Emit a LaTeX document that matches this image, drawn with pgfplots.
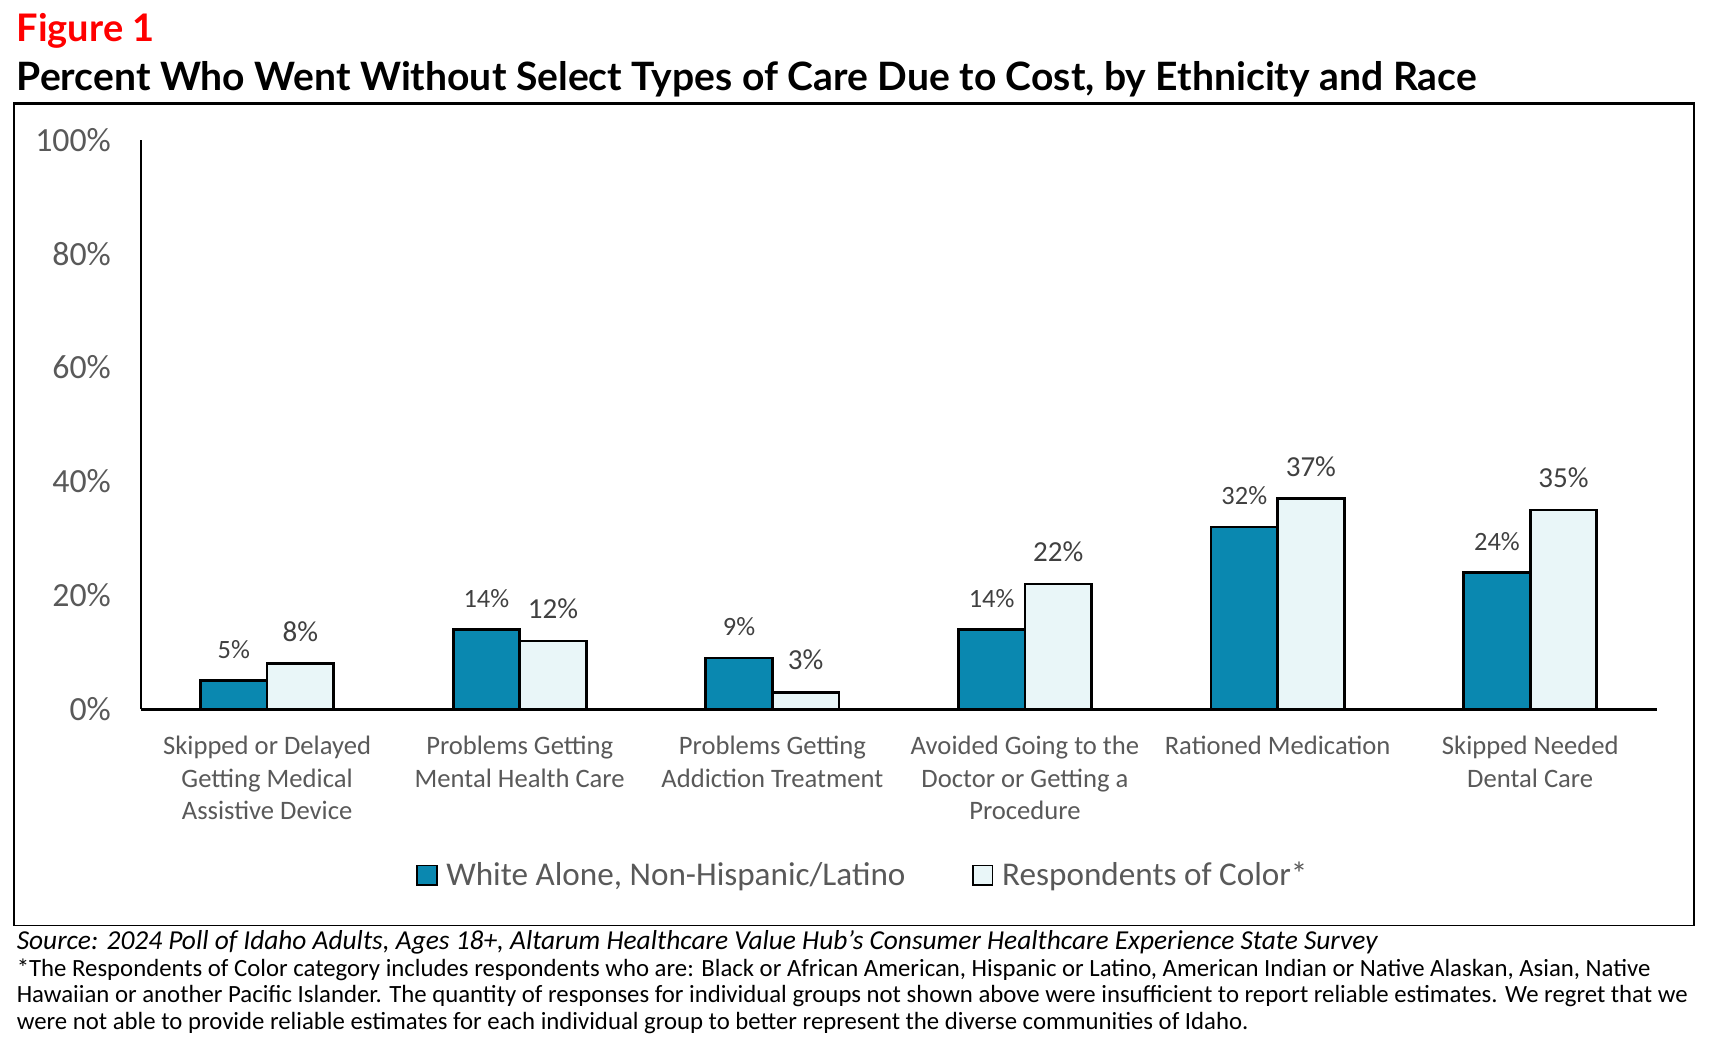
\documentclass[border=0pt]{standalone}
\usepackage{pgfplots}
\pgfplotsset{compat=1.18}
\usepackage{fontspec}
\setmainfont{Carlito}
\newfontfamily\titlefont{Lato}
\definecolor{cteal}{RGB}{10,136,176}
\definecolor{clight}{RGB}{233,246,248}
\definecolor{tickgray}{RGB}{89,89,89}
\definecolor{labgray}{RGB}{64,64,64}
\begin{document}
\begin{tikzpicture}[x=0.5pt,y=0.5pt]
\path (0,0) rectangle (1567,-955);
\node[anchor=base west, inner sep=0pt, text=red, font=\titlefont\bfseries\fontsize{17.4}{20}\selectfont] at (15,-38) {Figure 1};
\node[anchor=base west, inner sep=0pt, text=black, font=\titlefont\bfseries\fontsize{17.9}{20}\selectfont] at (15,-83) {Percent Who Went Without Select Types of Care Due to Cost, by Ethnicity and Race};
\draw[line width=0.8pt] (13,-95) rectangle (1552,-848);
\draw[line width=1.6pt] (12.2,-95) -- (1552.8,-95);
\coordinate (axorig) at (129,-650);
\begin{axis}[
  at={(axorig)}, anchor=south west,
  scale only axis, width=694.5pt, height=261pt,
  xmin=-0.5, xmax=5.5, ymin=0, ymax=100,
  axis x line*=bottom, axis y line*=left,
  x axis line style={-, line width=1.5pt},
  y axis line style={-, line width=1pt},
  major tick length=0pt, tick style={draw=none},
  xtick={0,1,2,3,4,5},
  xticklabels={{Skipped or Delayed\\Getting Medical\\Assistive Device},
               {Problems Getting\\Mental Health Care},
               {Problems Getting\\Addiction Treatment},
               {Avoided Going to the\\Doctor or Getting a\\Procedure},
               {Rationed Medication},
               {Skipped Needed\\Dental Care}},
  xticklabel style={align=center, anchor=north, inner sep=0pt, yshift=-12pt,
     text=tickgray, font=\fontsize{12.2}{15}\selectfont},
  ytick={0,20,40,60,80,100},
  yticklabels={0\%,20\%,40\%,60\%,80\%,100\%},
  yticklabel style={anchor=east, inner sep=0pt, xshift=-13.5pt,
     text=tickgray, font=\fontsize{15.5}{18}\selectfont},
  ybar=0pt, bar width=30.5pt,
  point meta=explicit symbolic,
  nodes near coords,
  nodes near coords style={anchor=south, inner sep=0pt, yshift=9.5pt, text=labgray},
  legend columns=2,
  legend image code/.code={\draw[#1, line width=0.8pt] (0pt,-4.5pt) rectangle (9pt,4.5pt);},
  legend style={at={(axis description cs:0.1814,-0.2912)}, anchor=west,
     draw=none, fill=none, inner sep=0pt, column sep=4pt,
     /tikz/every even column/.append style={column sep=30.5pt},
     nodes={inner sep=0pt, text=tickgray}, font=\fontsize{15.2}{18}\selectfont},
  clip=false,
]
\addplot[fill=cteal, draw=black, line width=1.25pt,
  nodes near coords style={font=\fontsize{12.1}{14}\selectfont}]
  coordinates {(0,5)[5\%] (1,14)[14\%] (2,9)[9\%] (3,14)[14\%] (4,32)[32\%] (5,24)[24\%]};
\addplot[fill=clight, draw=black, line width=1.25pt,
  nodes near coords style={font=\fontsize{13.3}{15}\selectfont}]
  coordinates {(0,8)[8\%] (1,12)[12\%] (2,3)[3\%] (3,22)[22\%] (4,37)[37\%] (5,35)[35\%]};
\legend{{White Alone, Non-Hispanic/Latino}, {Respondents of Color*}}
\end{axis}
\node[anchor=base west, inner sep=0pt, font=\itshape\fontsize{12.55}{14}\selectfont] at (15,-870)
  {Source: 2024 Poll of Idaho Adults, Ages 18+, Altarum Healthcare Value Hub's Consumer Healthcare Experience State Survey};
\node[anchor=base west, inner sep=0pt, font=\fontsize{11.35}{13}\selectfont] at (15,-895)
  {*The Respondents of Color category includes respondents who are: Black or African American, Hispanic or Latino, American Indian or Native Alaskan, Asian, Native};
\node[anchor=base west, inner sep=0pt, font=\fontsize{11.35}{13}\selectfont] at (15,-919)
  {Hawaiian or another Pacific Islander. The quantity of responses for individual groups not shown above were insufficient to report reliable estimates. We regret that we};
\node[anchor=base west, inner sep=0pt, font=\fontsize{11.35}{13}\selectfont] at (15,-943)
  {were not able to provide reliable estimates for each individual group to better represent the diverse communities of Idaho.};
\end{tikzpicture}
\end{document}
